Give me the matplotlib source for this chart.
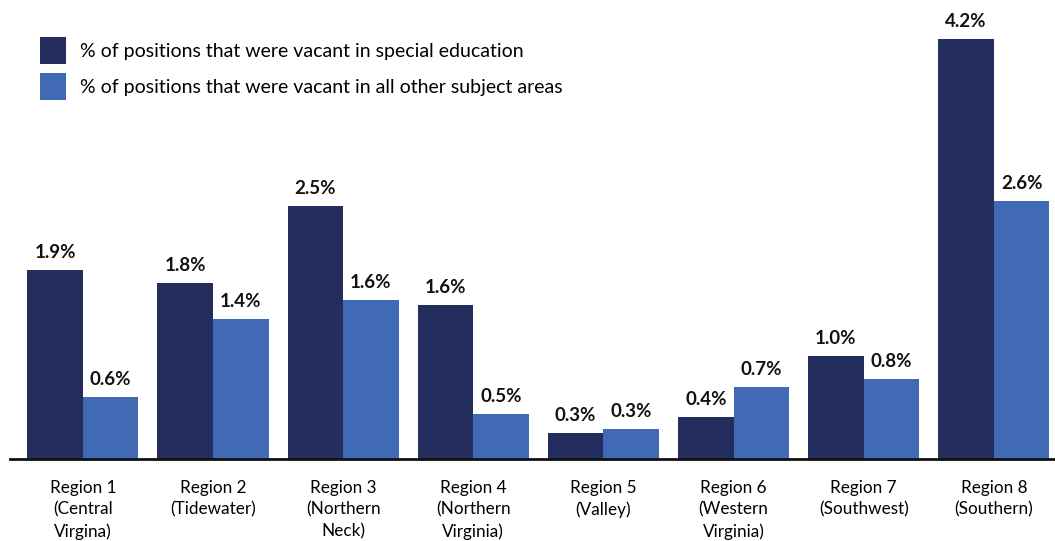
import matplotlib.pyplot as plt
import numpy as np

plt.rcParams['font.family'] = ['Lato', 'DejaVu Sans']

regions = ['Region 1\n(Central\nVirgina)', 'Region 2\n(Tidewater)', 'Region 3\n(Northern\nNeck)',
           'Region 4\n(Northern\nVirginia)', 'Region 5\n(Valley)', 'Region 6\n(Western\nVirginia)',
           'Region 7\n(Southwest)', 'Region 8\n(Southern)']

# bar heights (labels below are the printed values)
sped = [1.89, 1.76, 2.53, 1.54, 0.26, 0.42, 1.03, 4.20]
other = [0.62, 1.40, 1.59, 0.45, 0.30, 0.72, 0.80, 2.58]
sped_lbl = ['1.9%', '1.8%', '2.5%', '1.6%', '0.3%', '0.4%', '1.0%', '4.2%']
other_lbl = ['0.6%', '1.4%', '1.6%', '0.5%', '0.3%', '0.7%', '0.8%', '2.6%']

dark = '#232E5E'
light = '#416AB4'

fig = plt.figure(figsize=(10.55, 5.41), dpi=100)
ax = fig.add_axes([10 / 1055, 82 / 541, 1045 / 1055, 459 / 541])

x = np.arange(len(regions))
w = 0.427
b1 = ax.bar(x - w / 2, sped, w, color=dark, label='% of positions that were vacant in special education')
b2 = ax.bar(x + w / 2, other, w, color=light, label='% of positions that were vacant in all other subject areas')

for bars, labels in ((b1, sped_lbl), (b2, other_lbl)):
    for r, t in zip(bars, labels):
        ax.text(r.get_x() + r.get_width() / 2, r.get_height() + 0.09, t,
                ha='center', va='bottom', fontsize=13.5, fontweight='bold', color='#111111')

ax.set_xlim(-0.56, 7.47)
ax.set_ylim(0, 4.59)
ax.set_yticks([])
ax.set_xticks(x)
ax.set_xticklabels(regions, fontsize=12.3, linespacing=1.42)
ax.tick_params(axis='x', length=0, pad=15)
for s in ['top', 'right', 'left']:
    ax.spines[s].set_visible(False)
ax.spines['bottom'].set_linewidth(2)
ax.spines['bottom'].set_color('#111111')

ax.legend(loc='upper left', bbox_to_anchor=(40 / 1055, 1 - 37 / 541), bbox_transform=fig.transFigure,
          frameon=False, fontsize=14, borderpad=0, borderaxespad=0,
          handlelength=1.34, handleheight=1.74, handletextpad=0.72, labelspacing=0.5)

fig.savefig('out.png', dpi=100)
